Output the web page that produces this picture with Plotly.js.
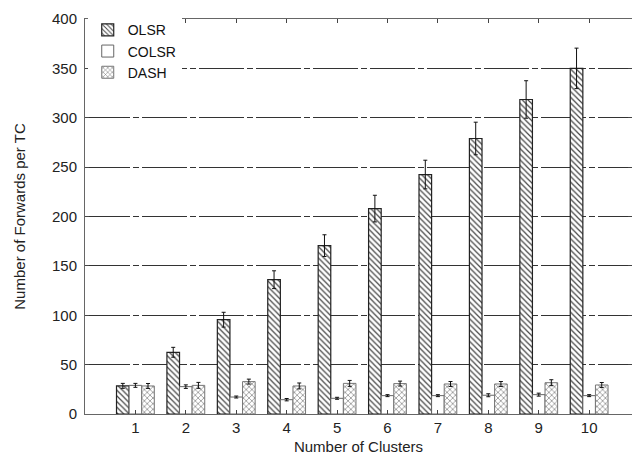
<!DOCTYPE html>
<html>
<head>
<meta charset="utf-8">
<script src="https://cdn.plot.ly/plotly-3.0.1.min.js"></script>
<style>html,body{margin:0;padding:0;background:#fff;}#chart{width:632px;height:461px;}</style>
</head>
<body>
<div id="chart"></div>
<script>
const clusters = [1, 2, 3, 4, 5, 6, 7, 8, 9, 10];
const olsr = [28.5, 62.5, 95.5, 136, 170.5, 208, 242.5, 279, 318.5, 350];
const olsrErr = [2.5, 5, 7.5, 9, 11, 13.5, 14.5, 16.5, 19, 20.5];
const colsr = [29, 27.7, 17.2, 14.5, 15.9, 18.6, 18.6, 19, 19.6, 18.6];
const colsrErr = [2, 1.8, 1, 1.2, 1, 1, 1, 1.5, 1.5, 1];
const dash = [28.4, 29, 32.8, 28.4, 31, 30.8, 30.4, 30.4, 31.7, 29.4];
const dashErr = [2.5, 3, 2.5, 3, 3, 2.5, 2.5, 2.5, 3, 2.5];
const seriesNames = ['OLSR', 'COLSR', 'DASH'];

const errStyle = (arr) => ({type: 'data', array: arr, visible: true, color: '#111', thickness: 1, width: 2});

const traces = [
  {
    type: 'bar', name: seriesNames[0], x: clusters, y: olsr,
    error_y: errStyle(olsrErr),
    marker: {color: '#ffffff', line: {color: '#222', width: 1.2},
             pattern: {shape: '\\', fgcolor: '#444', bgcolor: '#ffffff', size: 4, solidity: 0.3}}
  },
  {
    type: 'bar', name: seriesNames[1], x: clusters, y: colsr,
    error_y: errStyle(colsrErr),
    marker: {color: '#ffffff', line: {color: '#666', width: 1}}
  },
  {
    type: 'bar', name: seriesNames[2], x: clusters, y: dash,
    error_y: errStyle(dashErr),
    marker: {color: '#ffffff', line: {color: '#777', width: 1},
             pattern: {shape: 'x', fgcolor: '#777', bgcolor: '#ffffff', size: 4, solidity: 0.3}}
  }
];

const layout = {
  width: 632, height: 461,
  margin: {l: 85, r: 0, t: 19, b: 47},
  paper_bgcolor: '#ffffff', plot_bgcolor: '#ffffff',
  font: {family: 'Liberation Sans, Arial, sans-serif', size: 15, color: '#222'},
  barmode: 'group', bargap: 0.25, bargroupgap: 0,
  showlegend: true,
  legend: {x: 0.005, y: 1.012, xanchor: 'left', yanchor: 'top', bgcolor: '#ffffff',
           font: {size: 14, color: '#111'}, tracegroupgap: 0},
  xaxis: {
    range: [0, 10.85], tickmode: 'array', tickvals: clusters, ticktext: clusters.map(String),
    ticks: 'inside', ticklen: 4, tickcolor: '#444', mirror: 'ticks',
    showline: true, linecolor: '#666', linewidth: 1, showgrid: false, zeroline: false,
    title: {text: 'Number of Clusters', font: {size: 15}, standoff: 6},
    tickfont: {size: 15}
  },
  yaxis: {
    range: [0, 400], dtick: 50, tick0: 0,
    ticks: 'inside', ticklen: 4, tickcolor: '#444', mirror: 'ticks',
    showline: true, linecolor: '#666', linewidth: 1,
    showgrid: true, gridcolor: '#333', gridwidth: 1, griddash: '45px,3px,6px,3px',
    zeroline: false, ticklabelstandoff: 4,
    title: {text: 'Number of Forwards per TC', font: {size: 15}, standoff: 22},
    tickfont: {size: 15}
  }
};

Plotly.newPlot('chart', traces, layout, {displayModeBar: false, staticPlot: true});
</script>
</body>
</html>
